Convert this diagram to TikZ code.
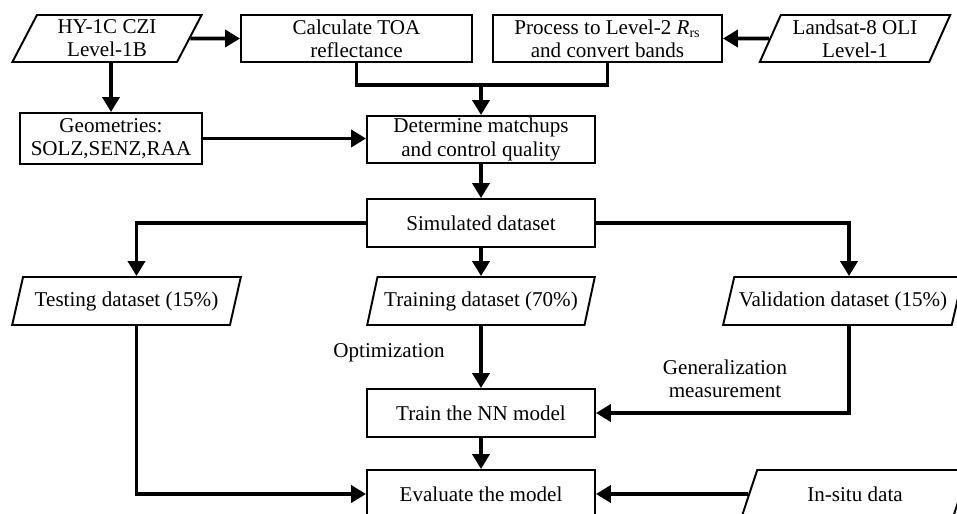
\documentclass[tikz,border=0pt]{standalone}
\usepackage{fontspec}
\setmainfont{Liberation Serif}
\usetikzlibrary{shapes.geometric, arrows.meta, positioning}
\tikzset{
  txt/.style={font=\fontsize{12}{13.2}\selectfont, align=center},
  procbox/.style={txt, draw, line width=1.1pt, rectangle, minimum height=0.94cm, inner sep=1pt},
  databox/.style={txt, draw, line width=1.1pt, trapezium, trapezium left angle=67,
    trapezium right angle=113, trapezium stretches, minimum height=0.94cm, inner xsep=0pt, inner ysep=1pt},
  flow/.style={line width=2.2pt},
  flowarr/.style={flow, -{Triangle[length=0.3cm, width=0.34cm]}},
}

\begin{document}
\begin{tikzpicture}[x=0.02cm, y=-0.02cm]
\useasboundingbox (0,0) rectangle (957,514);

% 输入数据与预处理
\node[databox, minimum width=3.8cm] (hy) at (107,38.5) {HY-1C CZI\\Level-1B};
\node[procbox, minimum width=4.62cm] (toa) at (356.5,38.5) {Calculate TOA\\reflectance};
\node[procbox, minimum width=4.58cm] (proc) at (607.5,38.5) {Process to Level-2 \textit{R}\textsubscript{rs}\\and convert bands};
\node[databox, minimum width=3.84cm] (ls) at (855,38.5) {Landsat-8 OLI\\Level-1};
\node[procbox, minimum width=3.64cm, minimum height=1.02cm] (geo) at (111,138.5) {Geometries:\\SOLZ,SENZ,RAA};
\node[procbox, minimum width=4.56cm] (det) at (481,139.5) {Determine matchups\\and control quality};

% 数据集划分
\node[procbox, minimum width=4.56cm, minimum height=0.96cm] (sim) at (481,223) {Simulated dataset};
\node[databox, minimum width=4.58cm, minimum height=0.96cm] (test) at (126.5,301) {Testing dataset (15\%)};
\node[databox, minimum width=4.56cm, minimum height=0.96cm] (train) at (481,301) {Training dataset (70\%)};
\node[databox, minimum width=4.8cm, minimum height=0.96cm, inner xsep=-6pt] (val) at (843,301) {Validation dataset (15\%)};

% 训练与评估
\node[procbox, minimum width=4.56cm, minimum height=0.96cm] (nn) at (481,413) {Train the NN model};
\node[procbox, minimum width=4.56cm, minimum height=0.96cm] (eval) at (481,494) {Evaluate the model};
\node[databox, minimum width=4.56cm, minimum height=0.96cm] (insitu) at (855,494) {In-situ data};

% 标注
\node[txt] (opt) at (389,353) {Optimization};
\node[txt] (gen) at (725,379) {Generalization\\measurement};

% 连线
\coordinate (join) at (481,85);
\draw[flowarr] (hy) -- (toa);
\draw[flowarr] (ls) -- (proc);
\draw[flowarr] (hy.south -| geo.north) -- (geo.north);
\draw[flow] (toa.south) |- (join);
\draw[flow] (proc.south) |- (join);
\draw[flowarr] (join) -- (det.north);
\draw[flowarr] (geo.east) -- (geo.east -| det.west);
\draw[flowarr] (det) -- (sim);
\draw[flowarr] (sim.west) -| ([xshift=0.2cm]test.north);
\draw[flowarr] (sim) -- (train);
\draw[flowarr] (sim.east) -| ([xshift=0.12cm]val.north);
\draw[flowarr] (train) -- (nn);
\draw[flowarr] ([xshift=0.12cm]val.south) |- (nn.east);
\draw[flowarr] (nn) -- (eval);
\draw[flowarr] ([xshift=0.2cm]test.south) |- (eval.west);
\draw[flowarr] (insitu) -- (eval);
\end{tikzpicture}
\end{document}
